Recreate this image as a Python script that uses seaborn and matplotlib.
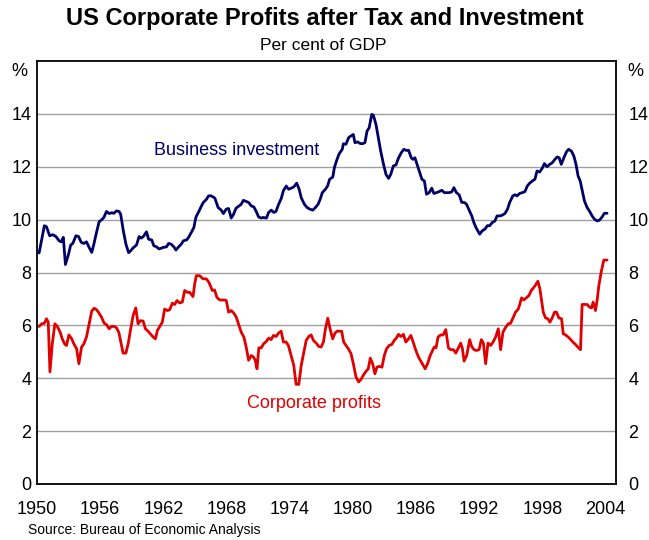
import matplotlib
matplotlib.use("Agg")
import matplotlib.pyplot as plt
import numpy as np
import pandas as pd
import seaborn as sns

# Business investment, per cent of GDP
inv_year = [
    1950.2, 1950.7, 1950.9, 1951.2, 1951.5, 1951.8, 1952.1, 1952.3, 1952.5, 1952.7,
    1953.0, 1953.2, 1953.4, 1953.7, 1953.95, 1954.2, 1954.45, 1954.7, 1954.95, 1955.2,
    1955.4, 1955.65, 1955.9, 1956.1, 1956.35, 1956.6, 1956.85, 1957.1, 1957.3, 1957.55,
    1957.8, 1957.95, 1958.2, 1958.45, 1958.7, 1958.9, 1959.1, 1959.45, 1959.7, 1959.9,
    1960.1, 1960.4, 1960.6, 1960.9, 1961.1, 1961.35, 1961.6, 1961.8, 1962.0, 1962.3,
    1962.5, 1962.75, 1963.0, 1963.2, 1963.45, 1963.7, 1963.9, 1964.2, 1964.4, 1964.65,
    1964.9, 1965.1, 1965.4, 1965.6, 1965.8, 1966.1, 1966.3, 1966.55, 1966.9, 1967.2,
    1967.5, 1967.7, 1967.98, 1968.2, 1968.45, 1968.67, 1968.9, 1969.2, 1969.4, 1969.6,
    1969.9, 1970.1, 1970.35, 1970.6, 1970.8, 1971.05, 1971.3, 1971.5, 1971.8, 1972.0,
    1972.25, 1972.5, 1972.7, 1972.95, 1973.2, 1973.4, 1973.67, 1973.9, 1974.1, 1974.4,
    1974.67, 1974.9, 1975.1, 1975.4, 1975.65, 1975.9, 1976.2, 1976.45, 1976.7, 1976.9,
    1977.1, 1977.4, 1977.6, 1977.8, 1978.1, 1978.25, 1978.5, 1978.7, 1979.0, 1979.1,
    1979.35, 1979.6, 1979.8, 1980.05, 1980.2, 1980.45, 1980.7, 1980.9, 1981.15, 1981.35,
    1981.55, 1981.8, 1981.95, 1982.2, 1982.4, 1982.65, 1982.9, 1983.15, 1983.4, 1983.6,
    1983.85, 1984.1, 1984.35, 1984.6, 1984.85, 1985.05, 1985.3, 1985.55, 1985.7, 1985.9,
    1986.2, 1986.56, 1986.8, 1987.0, 1987.25, 1987.5, 1987.7, 1987.95, 1988.2, 1988.45,
    1988.7, 1988.9, 1989.15, 1989.4, 1989.6, 1989.84, 1990.1, 1990.35, 1990.6, 1990.8,
    1991.0, 1991.3, 1991.5, 1991.7, 1992.05, 1992.3, 1992.55, 1992.78, 1993.0, 1993.25,
    1993.5, 1993.7, 1993.98, 1994.2, 1994.45, 1994.7, 1994.9, 1995.2, 1995.4, 1995.6,
    1995.85, 1996.1, 1996.35, 1996.57, 1996.8, 1997.05, 1997.3, 1997.5, 1997.75, 1997.99,
    1998.2, 1998.45, 1998.7, 1998.94, 1999.2, 1999.4, 1999.6, 1999.8, 2000.05, 2000.3,
    2000.5, 2000.77, 2001.0, 2001.2, 2001.4, 2001.6, 2001.8, 2002.0, 2002.25, 2002.5,
    2002.73, 2002.95, 2003.2, 2003.43, 2003.68, 2003.9, 2004.15,
]
inv_pct = [
    8.74, 9.77, 9.73, 9.39, 9.43, 9.36, 9.20, 9.16, 9.33, 8.30,
    8.70, 9.04, 9.10, 9.39, 9.36, 9.14, 9.10, 9.16, 8.95, 8.76,
    9.07, 9.51, 9.92, 9.98, 10.08, 10.31, 10.23, 10.26, 10.24, 10.33,
    10.31, 10.20, 9.58, 9.07, 8.75, 8.82, 8.92, 9.04, 9.36, 9.30,
    9.36, 9.54, 9.26, 9.23, 9.01, 8.97, 8.89, 8.92, 8.95, 8.97,
    9.10, 9.07, 8.97, 8.85, 8.97, 9.07, 9.20, 9.23, 9.33, 9.51,
    9.70, 10.10, 10.33, 10.50, 10.65, 10.77, 10.90, 10.90, 10.81, 10.46,
    10.36, 10.23, 10.40, 10.42, 10.06, 10.20, 10.43, 10.52, 10.58, 10.73,
    10.68, 10.65, 10.52, 10.48, 10.33, 10.10, 10.06, 10.08, 10.06, 10.27,
    10.36, 10.27, 10.31, 10.58, 10.80, 11.09, 11.27, 11.15, 11.18, 11.24,
    11.38, 11.15, 10.83, 10.58, 10.46, 10.40, 10.36, 10.46, 10.58, 10.77,
    11.02, 11.15, 11.27, 11.53, 11.61, 11.97, 12.28, 12.49, 12.66, 12.87,
    12.85, 13.10, 13.16, 13.22, 12.91, 12.94, 12.88, 12.87, 12.91, 13.35,
    13.47, 13.98, 13.95, 13.60, 13.16, 12.59, 12.12, 11.71, 11.56, 11.71,
    12.03, 12.07, 12.34, 12.53, 12.66, 12.62, 12.62, 12.34, 12.28, 12.34,
    11.97, 11.53, 11.46, 10.96, 11.02, 11.19, 10.99, 11.02, 11.06, 11.11,
    11.02, 11.02, 11.02, 11.05, 11.21, 11.02, 10.94, 10.65, 10.65, 10.58,
    10.40, 10.14, 9.89, 9.70, 9.45, 9.58, 9.64, 9.77, 9.77, 9.89,
    9.95, 10.14, 10.14, 10.17, 10.23, 10.40, 10.65, 10.90, 10.94, 10.90,
    10.99, 11.02, 11.06, 11.27, 11.38, 11.46, 11.53, 11.84, 11.80, 11.94,
    12.12, 12.00, 12.09, 12.15, 12.28, 12.37, 12.34, 12.09, 12.34, 12.57,
    12.66, 12.59, 12.40, 12.09, 11.65, 11.46, 11.09, 10.71, 10.46, 10.31,
    10.14, 10.02, 9.95, 9.98, 10.10, 10.24, 10.24,
]

# Corporate profits after tax, per cent of GDP
prof_year = [
    1950.2, 1950.45, 1950.7, 1950.9, 1951.07, 1951.23, 1951.45, 1951.7, 1951.93, 1952.2,
    1952.4, 1952.65, 1952.8, 1953.03, 1953.3, 1953.5, 1953.76, 1953.98, 1954.23, 1954.45,
    1954.7, 1954.96, 1955.2, 1955.43, 1955.66, 1955.9, 1956.13, 1956.38, 1956.6, 1956.86,
    1957.08, 1957.33, 1957.55, 1957.77, 1957.96, 1958.18, 1958.44, 1958.66, 1958.9, 1959.13,
    1959.38, 1959.6, 1959.83, 1960.08, 1960.3, 1960.55, 1960.77, 1961.03, 1961.25, 1961.44,
    1961.66, 1961.9, 1962.13, 1962.39, 1962.6, 1962.86, 1963.08, 1963.3, 1963.55, 1963.8,
    1964.03, 1964.28, 1964.5, 1964.82, 1964.98, 1965.13, 1965.45, 1965.77, 1966.08, 1966.33,
    1966.65, 1966.87, 1967.09, 1967.35, 1967.6, 1967.82, 1967.98, 1968.2, 1968.45, 1968.7,
    1968.93, 1969.18, 1969.4, 1969.65, 1969.87, 1970.1, 1970.35, 1970.57, 1970.73, 1970.9,
    1971.07, 1971.3, 1971.52, 1971.77, 1972.02, 1972.24, 1972.46, 1972.72, 1972.94, 1973.19,
    1973.41, 1973.66, 1973.88, 1974.14, 1974.39, 1974.61, 1974.87, 1975.1, 1975.35, 1975.57,
    1975.82, 1976.04, 1976.26, 1976.52, 1976.77, 1976.99, 1977.21, 1977.4, 1977.62, 1977.84,
    1978.09, 1978.31, 1978.5, 1978.72, 1978.94, 1979.13, 1979.35, 1979.57, 1979.83, 1980.05,
    1980.3, 1980.55, 1980.77, 1980.99, 1981.25, 1981.47, 1981.66, 1981.88, 1982.1, 1982.29,
    1982.51, 1982.77, 1982.99, 1983.21, 1983.46, 1983.71, 1983.93, 1984.15, 1984.34, 1984.56,
    1984.81, 1985.03, 1985.29, 1985.51, 1985.73, 1985.99, 1986.24, 1986.55, 1986.87, 1987.1,
    1987.35, 1987.57, 1987.73, 1987.9, 1988.1, 1988.36, 1988.58, 1988.83, 1989.08, 1989.3,
    1989.56, 1989.78, 1990.03, 1990.25, 1990.41, 1990.57, 1990.82, 1991.1, 1991.29, 1991.52,
    1991.74, 1991.99, 1992.21, 1992.4, 1992.62, 1992.84, 1993.1, 1993.32, 1993.57, 1993.82,
    1994.04, 1994.26, 1994.52, 1994.77, 1994.99, 1995.21, 1995.46, 1995.72, 1995.87, 1996.03,
    1996.25, 1996.48, 1996.73, 1996.95, 1997.2, 1997.36, 1997.58, 1997.77, 1997.93, 1998.09,
    1998.31, 1998.53, 1998.72, 1998.94, 1999.16, 1999.35, 1999.57, 1999.83, 1999.99, 2000.2,
    2000.46, 2000.68, 2000.9, 2001.15, 2001.37, 2001.63, 2001.78, 2002.04, 2002.26, 2002.48,
    2002.67, 2002.83, 2003.05, 2003.21, 2003.37, 2003.59, 2003.84, 2004.15,
]
prof_pct = [
    5.96, 6.06, 6.08, 6.25, 6.12, 4.24, 5.30, 6.06, 5.96, 5.74,
    5.49, 5.28, 5.24, 5.64, 5.49, 5.30, 5.12, 4.55, 5.18, 5.30,
    5.56, 6.06, 6.54, 6.65, 6.59, 6.46, 6.31, 6.08, 6.03, 5.87,
    5.96, 5.96, 5.91, 5.74, 5.37, 4.95, 4.95, 5.30, 5.87, 6.37,
    6.66, 6.06, 6.18, 6.16, 5.87, 5.78, 5.68, 5.56, 5.49, 5.81,
    5.96, 6.12, 6.62, 6.56, 6.59, 6.84, 6.79, 6.94, 6.85, 6.88,
    7.32, 7.25, 7.25, 7.09, 7.57, 7.88, 7.88, 7.76, 7.76, 7.63,
    7.32, 7.34, 7.06, 6.96, 6.96, 6.96, 6.94, 6.50, 6.56, 6.46,
    6.31, 6.00, 5.74, 5.56, 5.18, 4.68, 4.86, 4.80, 4.68, 4.36,
    5.15, 5.15, 5.30, 5.39, 5.52, 5.46, 5.62, 5.58, 5.71, 5.78,
    5.37, 5.37, 5.24, 4.86, 4.49, 3.77, 3.77, 4.49, 4.99, 5.43,
    5.58, 5.64, 5.43, 5.33, 5.20, 5.18, 5.37, 5.87, 6.27, 5.87,
    5.49, 5.71, 5.78, 5.78, 5.78, 5.37, 5.24, 5.12, 4.93, 4.55,
    4.05, 3.86, 3.95, 4.11, 4.26, 4.36, 4.76, 4.55, 4.17, 4.42,
    4.45, 4.42, 4.86, 5.12, 5.24, 5.28, 5.43, 5.53, 5.66, 5.58,
    5.66, 5.37, 5.49, 5.62, 5.37, 5.05, 4.80, 4.58, 4.36, 4.55,
    4.86, 5.05, 5.18, 5.15, 5.56, 5.64, 5.64, 5.84, 5.15, 5.08,
    5.08, 4.95, 5.15, 5.33, 5.12, 4.65, 4.86, 5.46, 5.20, 5.08,
    5.05, 5.08, 5.46, 5.33, 4.55, 5.33, 5.24, 5.37, 5.56, 5.87,
    5.08, 5.74, 5.93, 6.06, 6.08, 6.28, 6.50, 6.62, 6.81, 7.04,
    6.96, 7.04, 7.13, 7.32, 7.44, 7.53, 7.67, 7.38, 6.94, 6.50,
    6.28, 6.25, 6.12, 6.28, 6.50, 6.50, 6.28, 6.25, 5.68, 5.64,
    5.56, 5.47, 5.37, 5.28, 5.18, 5.08, 6.79, 6.79, 6.79, 6.69,
    6.66, 6.88, 6.56, 6.96, 7.50, 8.01, 8.47, 8.47,
]

x_ticks = [1950, 1956, 1962, 1968, 1974, 1980, 1986, 1992, 1998, 2004]
y_ticks = [0, 2, 4, 6, 8, 10, 12, 14]

navy = "#000066"
red = "#e00000"

sns.set_style("white")
plt.rcParams["font.family"] = ["Liberation Sans", "DejaVu Sans"]
plt.rcParams["text.color"] = "black"
plt.rcParams["xtick.color"] = "black"
plt.rcParams["ytick.color"] = "black"

df_inv = pd.DataFrame({"year": inv_year, "pct": inv_pct})
df_prof = pd.DataFrame({"year": prof_year, "pct": prof_pct})

fig = plt.figure(figsize=(6.49, 5.40), dpi=100)
ax = fig.add_axes([37 / 649, 56 / 540, 579 / 649, 423 / 540])

sns.lineplot(data=df_inv, x="year", y="pct", ax=ax, color=navy, lw=2.0, estimator=None)
sns.lineplot(data=df_prof, x="year", y="pct", ax=ax, color=red, lw=2.0, estimator=None)

ax.set_xlim(1950, 2005)
ax.set_ylim(0, 16)
ax.set_xticks(x_ticks)
ax.set_xticklabels([str(y) for y in x_ticks])
ax.set_yticks(y_ticks)
ax.set_xlabel("")
ax.set_ylabel("")
ax.yaxis.grid(True, color="#a0a0a0", lw=1)
ax.tick_params(axis="x", direction="in", length=8, width=1, pad=12, labelsize=13)
ax.tick_params(axis="y", length=0, pad=4, labelsize=13)
for s in ax.spines.values():
    s.set_visible(True)
    s.set_color("black")
    s.set_linewidth(1.3)

# right-hand axis labels
ax2 = ax.twinx()
ax2.set_ylim(ax.get_ylim())
ax2.set_yticks(y_ticks)
ax2.tick_params(axis="y", length=0, pad=9, labelsize=13)
for s in ax2.spines.values():
    s.set_visible(False)

fig.text(19 / 649, 1 - 71 / 540, "%", ha="center", va="center", fontsize=13)
fig.text(635 / 649, 1 - 71 / 540, "%", ha="center", va="center", fontsize=13)

ax.text(1968.96, 12.6, "Business investment", color=navy, fontsize=13, ha="center", va="center")
ax.text(1976.35, 3.05, "Corporate profits", color=red, fontsize=13, ha="center", va="center")

fig.text(325 / 649, 1 - 19 / 540, "US Corporate Profits after Tax and Investment",
         ha="center", va="center", fontsize=17, fontweight="bold")
fig.text(323 / 649, 1 - 45 / 540, "Per cent of GDP", ha="center", va="center", fontsize=12.5)
fig.text(28 / 649, 1 - 530 / 540, "Source: Bureau of Economic Analysis",
         ha="left", va="center", fontsize=10)

fig.savefig("out.png", dpi=100)
